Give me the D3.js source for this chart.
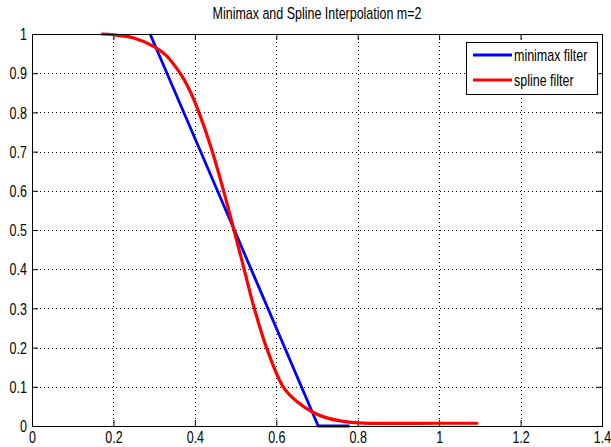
<!DOCTYPE html>
<html>
<head>
<meta charset="utf-8">
<script src="https://cdn.jsdelivr.net/npm/d3@7"></script>
<style>
  body { margin: 0; background: #fff; }
  svg { display: block; }
  text { font-family: "Liberation Sans", Arial, sans-serif; fill: #000; }
  .grid line { stroke: #000; stroke-width: 1; stroke-dasharray: 1,3; }
  .curve { fill: none; stroke-linejoin: round; }
</style>
</head>
<body>
<svg id="chart"></svg>
<script>
// ---- data
const title = 'Minimax and Spline Interpolation m=2';
const xTicks = [0, 0.2, 0.4, 0.6, 0.8, 1, 1.2, 1.4];
const yTicks = [0, 0.1, 0.2, 0.3, 0.4, 0.5, 0.6, 0.7, 0.8, 0.9, 1];
const seriesNames = ['minimax filter', 'spline filter'];
const seriesColors = ['#0000ff', '#ff0000'];

// minimax filter
const minimaxX = [0.29, 0.497, 0.703, 0.78];
const minimaxY = [1.0, 0.5, 0.0, 0.0];

// spline filter
const splineX = [0.17, 0.2, 0.25, 0.3, 0.33, 0.35, 0.37, 0.39, 0.41, 0.44, 0.468, 0.496, 0.521, 0.546, 0.576, 0.617, 0.65, 0.69, 0.72, 0.757, 0.8, 1.0, 1.096];
const splineY = [1.0, 0.998, 0.99, 0.968, 0.945, 0.92, 0.89, 0.85, 0.80, 0.71, 0.61, 0.5, 0.4, 0.3, 0.2, 0.1, 0.063, 0.035, 0.022, 0.013, 0.008, 0.007, 0.007];

// ---- layout
const W = 611, H = 447;
const box = { left: 32, right: 602, top: 34, bottom: 426 };
const tickLen = 6;
const fontSize = 16;
const squeeze = 'scale(0.78,1)';   // narrow-looking text

const svg = d3.select('#chart').attr('width', W).attr('height', H);

const x = d3.scaleLinear().domain([0, 1.4]).range([box.left, box.right]);
const y = d3.scaleLinear().domain([0, 1]).range([box.bottom, box.top]);

// grid (dotted)
const grid = svg.append('g').attr('class', 'grid');
grid.selectAll('.gx')
  .data(xTicks.slice(1, -1))
  .enter().append('line')
  .attr('x1', d => Math.round(x(d)) + 0.5).attr('x2', d => Math.round(x(d)) + 0.5)
  .attr('y1', box.top).attr('y2', box.bottom);
grid.selectAll('.gy')
  .data(yTicks.slice(1, -1))
  .enter().append('line')
  .attr('y1', d => Math.round(y(d)) + 0.5).attr('y2', d => Math.round(y(d)) + 0.5)
  .attr('x1', box.left).attr('x2', box.right);

// axes via d3 axis, ticks pointing inward
const fmt = d => String(+d.toFixed(1));
svg.append('g')
  .attr('transform', `translate(0,${box.bottom})`)
  .call(d3.axisBottom(x).tickValues(xTicks).tickSizeInner(-tickLen).tickSizeOuter(0).tickFormat(fmt))
  .call(g => g.select('.domain').remove())
  .call(g => g.selectAll('text')
    .attr('font-size', fontSize).attr('font-family', null)
    .attr('y', 17).attr('dy', 0).attr('transform', squeeze));
svg.append('g')
  .attr('transform', `translate(0,${box.top})`)
  .call(d3.axisTop(x).tickValues(xTicks).tickSizeInner(-tickLen).tickSizeOuter(0).tickFormat(''))
  .call(g => g.select('.domain').remove());
svg.append('g')
  .attr('transform', `translate(${box.left},0)`)
  .call(d3.axisLeft(y).tickValues(yTicks).tickSizeInner(-tickLen).tickSizeOuter(0).tickFormat(fmt))
  .call(g => g.select('.domain').remove())
  .call(g => g.selectAll('text')
    .attr('font-size', fontSize).attr('font-family', null)
    .attr('x', -6.5).attr('dy', '0.36em').attr('transform', squeeze));
svg.append('g')
  .attr('transform', `translate(${box.right},0)`)
  .call(d3.axisRight(y).tickValues(yTicks).tickSizeInner(-tickLen).tickSizeOuter(0).tickFormat(''))
  .call(g => g.select('.domain').remove());
svg.selectAll('.tick line').attr('stroke', '#000');

// curves
const minimax = d3.zip(minimaxX, minimaxY);
const spline = d3.zip(splineX, splineY);
const line = d3.line().x(d => x(d[0])).y(d => y(d[1]));
const splineLine = d3.line().x(d => x(d[0])).y(d => y(d[1])).curve(d3.curveCatmullRom.alpha(0.5));

svg.append('path').attr('class', 'curve')
  .attr('d', line(minimax)).attr('stroke', seriesColors[0]).attr('stroke-width', 2.8);
svg.append('path').attr('class', 'curve')
  .attr('d', splineLine(spline)).attr('stroke', seriesColors[1]).attr('stroke-width', 3.2);

// axes box
svg.append('rect')
  .attr('x', box.left + 0.5).attr('y', box.top + 0.5)
  .attr('width', box.right - box.left).attr('height', box.bottom - box.top)
  .attr('fill', 'none').attr('stroke', '#000').attr('stroke-width', 1);

// title
svg.append('g').attr('transform', `translate(${(box.left + box.right) / 2},19)`)
  .append('text')
  .attr('text-anchor', 'middle').attr('font-size', fontSize).attr('transform', squeeze)
  .text(title);

// legend
const lg = svg.append('g').attr('transform', 'translate(466,42)');
lg.append('rect').attr('x', 0.5).attr('y', 0.5).attr('width', 131).attr('height', 52)
  .attr('fill', '#fff').attr('stroke', '#000');
seriesNames.forEach((name, i) => {
  const ly = 13 + i * 25;
  lg.append('line').attr('x1', 7).attr('x2', 46).attr('y1', ly).attr('y2', ly)
    .attr('stroke', seriesColors[i]).attr('stroke-width', 3);
  lg.append('g').attr('transform', `translate(48,${ly + 6})`)
    .append('text').attr('font-size', fontSize).attr('transform', squeeze).text(name);
});
</script>
</body>
</html>
